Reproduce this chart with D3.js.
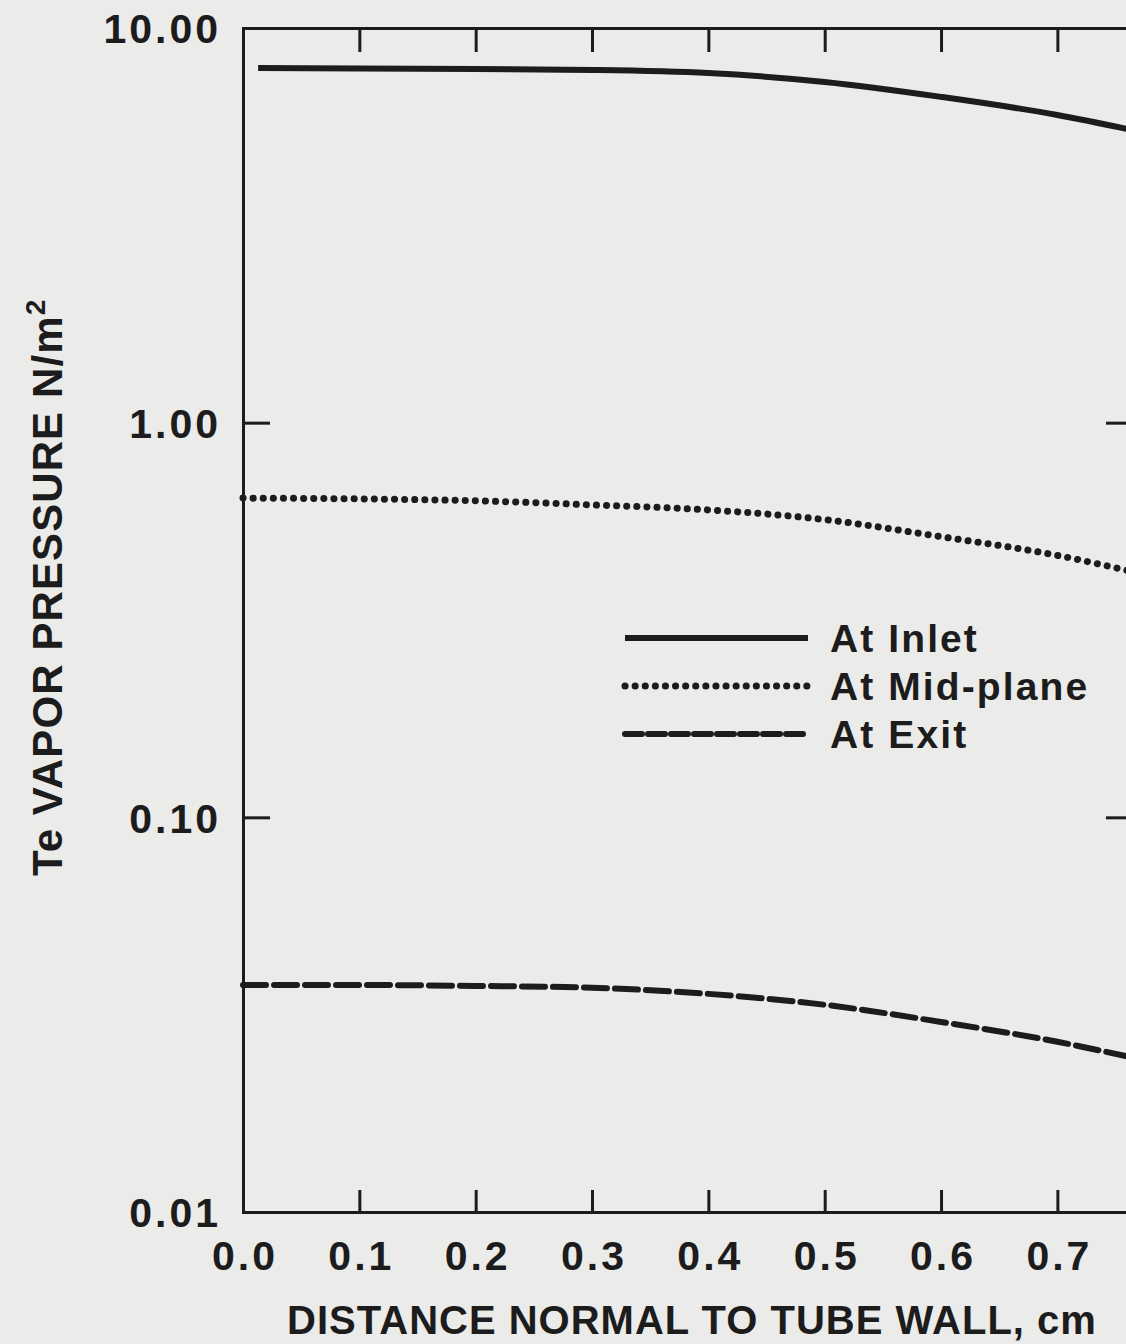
<!DOCTYPE html>
<html lang="en">
<head>
<meta charset="utf-8">
<title>Te vapor pressure vs distance</title>
<script src="https://cdn.jsdelivr.net/npm/d3@7"></script>
<style>
  body { margin: 0; background: #ebebea; }
  svg { display: block; }
  text { font-family: "Liberation Sans", Arial, Helvetica, sans-serif; font-weight: bold; fill: #1c1c1c; }
  .tick text { font-size: 41px; letter-spacing: 3px; }
  .domain, .tick line { stroke: #1c1c1c; stroke-width: 3; }
</style>
</head>
<body>
<script>
// data
const xTicks = [0.0, 0.1, 0.2, 0.3, 0.4, 0.5, 0.6, 0.7];
const yTicks = [0.01, 0.1, 1, 10];

const inletX = [0.013, 0.1, 0.2, 0.3, 0.4, 0.5, 0.6, 0.7, 0.765];
const inletY = [7.92, 7.90, 7.87, 7.83, 7.69, 7.30, 6.69, 6.02, 5.51];

const midX = [0.0, 0.1, 0.2, 0.3, 0.4, 0.5, 0.6, 0.7, 0.765];
const midY = [0.644, 0.641, 0.634, 0.619, 0.601, 0.568, 0.514, 0.461, 0.419];

const exitX = [0.0, 0.1, 0.2, 0.3, 0.4, 0.5, 0.6, 0.7, 0.765];
const exitY = [0.0376, 0.0376, 0.0374, 0.0370, 0.0357, 0.0335, 0.0303, 0.0270, 0.0246];

const legendNames = ["At Inlet", "At Mid-plane", "At Exit"];

const W = 1126, H = 1344;
const padL = 243, padT = 28, plotR = 1133, plotB = 1212;

const svg = d3.select("body").append("svg")
    .attr("width", W).attr("height", H);

const x = d3.scaleLinear().domain([0, 0.765]).range([padL, plotR]);
const y = d3.scaleLog().domain([0.01, 10]).range([plotB, padT]);

// axes, ticks pointing inward
svg.append("g")
    .attr("transform", "translate(0," + plotB + ")")
    .call(d3.axisBottom(x).tickValues(xTicks).tickSize(-22).tickPadding(29)
        .tickFormat(d3.format(".1f")))
    .call(g => g.selectAll(".tick text").attr("dy", "0.71em").attr("dx", "1.5"));

svg.append("g")
    .attr("transform", "translate(0," + padT + ")")
    .call(d3.axisTop(x).tickValues(xTicks).tickSize(-24).tickFormat(""));

svg.append("g")
    .attr("transform", "translate(" + padL + ",0)")
    .call(d3.axisLeft(y).tickValues(yTicks).tickSize(-27).tickPadding(22)
        .tickFormat(d3.format(".2f")))
    .call(g => g.selectAll(".tick text").attr("dy", "0.36em"));

svg.append("g")
    .attr("transform", "translate(" + plotR + ",0)")
    .call(d3.axisRight(y).tickValues(yTicks).tickSize(-27).tickFormat(""));

// curves
const line = d3.line()
    .x(d => x(d[0]))
    .y(d => y(d[1]))
    .curve(d3.curveMonotoneX);

const series = [
    { pts: d3.zip(inletX, inletY), dash: null, cap: "butt" },
    { pts: d3.zip(midX, midY), dash: "0.1 10", cap: "round" },
    { pts: d3.zip(exitX, exitY), dash: "23 8", cap: "round" }
];

svg.append("g").selectAll("path")
    .data(series)
    .enter()
    .append("path")
    .attr("d", d => line(d.pts))
    .attr("fill", "none")
    .attr("stroke", "#1c1c1c")
    .attr("stroke-width", d => d.dash === "0.1 10" ? 7 : 6)
    .attr("stroke-linecap", d => d.cap)
    .attr("stroke-dasharray", d => d.dash);

// legend
const legendDash = [null, "0.1 10", "17 6"];
const lg = svg.append("g").attr("transform", "translate(625,638)");
legendNames.forEach(function (name, i) {
    lg.append("line")
        .attr("x1", 0).attr("x2", 183)
        .attr("y1", i * 48).attr("y2", i * 48)
        .attr("stroke", "#1c1c1c")
        .attr("stroke-width", i === 1 ? 7 : 6)
        .attr("stroke-linecap", i === 0 ? "butt" : "round")
        .attr("stroke-dasharray", legendDash[i]);
    lg.append("text")
        .attr("x", 205).attr("y", i * 48 + 14)
        .attr("font-size", 39)
        .attr("letter-spacing", 2.1)
        .text(name);
});

// axis titles
svg.append("text")
    .attr("x", 692).attr("y", 1334)
    .attr("text-anchor", "middle")
    .attr("font-size", 40)
    .attr("letter-spacing", 1)
    .text("DISTANCE NORMAL TO TUBE WALL, cm");

const yt = svg.append("text")
    .attr("transform", "translate(62,876) rotate(-90)")
    .attr("font-size", 42)
    .attr("letter-spacing", 1.1);
yt.append("tspan").text("Te VAPOR PRESSURE N/m");
yt.append("tspan").attr("dy", -17).attr("font-size", 28).text("2");
</script>
</body>
</html>
